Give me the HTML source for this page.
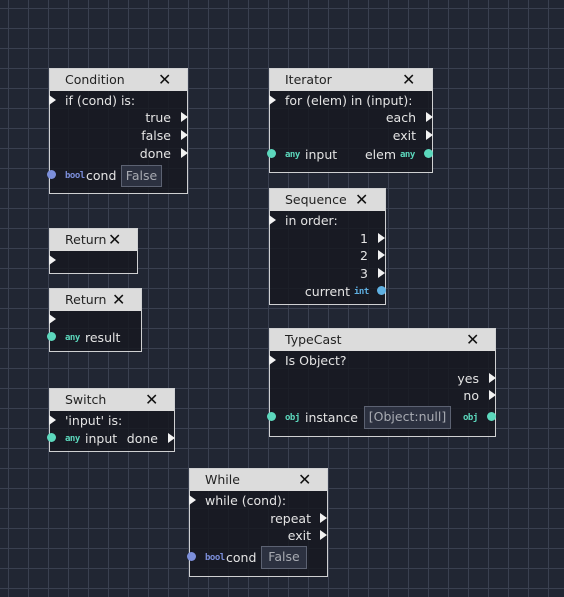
<!DOCTYPE html>
<html><head><meta charset="utf-8"><style>
body{margin:0;width:564px;height:597px;overflow:hidden;background-color:#212633;
background-image:linear-gradient(#3a4050 1px,transparent 1px),linear-gradient(90deg,#3a4050 1px,transparent 1px);
background-size:20px 20px;background-position:8px 8px;font-family:"DejaVu Sans","Liberation Sans",sans-serif;position:relative}
.n{position:absolute;border:1px solid #cfd0d2;background:rgba(22,24,32,0.82);box-sizing:border-box}
.h{position:absolute;left:0;right:0;top:0;height:22px;background:#dcdcdc}
.ti{position:absolute;font-size:12.5px;color:#222;line-height:16px;white-space:nowrap}
.x{position:absolute;font-size:16px;color:#111;line-height:16px}
.t{position:absolute;font-size:12.5px;color:#e4e4e4;line-height:16px;white-space:nowrap}
.tl{position:absolute;width:0;height:0;border-top:5px solid transparent;border-bottom:5px solid transparent;border-left:7px solid #f2f2f2}
.c{position:absolute;width:9px;height:9px;border-radius:50%}
.b{position:absolute;font-size:9px;font-weight:bold;line-height:10px;font-family:"DejaVu Sans Mono",monospace;letter-spacing:-0.5px}
.box{position:absolute;border:1px solid #5c6272;background:#2c3140;color:#a8abb2;font-size:12.5px;line-height:20px;text-align:center;box-sizing:border-box;white-space:nowrap}
</style></head><body>

<!-- Condition -->
<div class="n" style="left:49px;top:68px;width:139px;height:126px"><div class="h"></div></div>
<div class="ti" style="left:65px;top:72px">Condition</div><div class="x" style="left:158px;top:72px">✕</div>
<div class="tl" style="left:49px;top:95px"></div><div class="t" style="left:65px;top:93px">if (cond) is:</div>
<div class="t" style="right:393px;top:110px">true</div><div class="tl" style="left:181px;top:112px"></div>
<div class="t" style="right:393px;top:128px">false</div><div class="tl" style="left:181px;top:130px"></div>
<div class="t" style="right:393px;top:146px">done</div><div class="tl" style="left:181px;top:148px"></div>
<div class="c" style="left:47px;top:170px;background:#7c8fdb"></div><div class="b" style="left:65px;top:171px;color:#7c8fdb">bool</div>
<div class="t" style="left:86px;top:168px">cond</div><div class="box" style="left:121px;top:165px;width:41px;height:22px">False</div>

<!-- Iterator -->
<div class="n" style="left:269px;top:68px;width:164px;height:105px"><div class="h"></div></div>
<div class="ti" style="left:285px;top:72px">Iterator</div><div class="x" style="left:402px;top:72px">✕</div>
<div class="tl" style="left:269px;top:95px"></div><div class="t" style="left:285px;top:93px">for (elem) in (input):</div>
<div class="t" style="right:148px;top:110px">each</div><div class="tl" style="left:426px;top:112px"></div>
<div class="t" style="right:148px;top:128px">exit</div><div class="tl" style="left:426px;top:130px"></div>
<div class="c" style="left:267px;top:149px;background:#5cd8bd"></div><div class="b" style="left:285px;top:150px;color:#5cd8bd">any</div>
<div class="t" style="left:305px;top:147px">input</div><div class="t" style="right:168px;top:147px">elem</div>
<div class="b" style="left:400px;top:150px;color:#5cd8bd">any</div><div class="c" style="left:424px;top:149px;background:#5cd8bd"></div>

<!-- Sequence -->
<div class="n" style="left:269px;top:188px;width:117px;height:117px"><div class="h"></div></div>
<div class="ti" style="left:285px;top:192px">Sequence</div><div class="x" style="left:355px;top:192px">✕</div>
<div class="tl" style="left:269px;top:215px"></div><div class="t" style="left:285px;top:213px">in order:</div>
<div class="t" style="right:196px;top:231px">1</div><div class="tl" style="left:378px;top:233px"></div>
<div class="t" style="right:196px;top:248px">2</div><div class="tl" style="left:378px;top:250px"></div>
<div class="t" style="right:196px;top:266px">3</div><div class="tl" style="left:378px;top:268px"></div>
<div class="t" style="right:214px;top:284px">current</div><div class="b" style="left:354px;top:287px;color:#5fb0e2">int</div>
<div class="c" style="left:377px;top:286px;background:#5fb0e2"></div>

<!-- Return 1 -->
<div class="n" style="left:49px;top:228px;width:89px;height:46px"><div class="h"></div></div>
<div class="ti" style="left:65px;top:232px">Return</div><div class="x" style="left:108px;top:232px">✕</div>
<div class="tl" style="left:49px;top:255px"></div>

<!-- Return 2 -->
<div class="n" style="left:49px;top:288px;width:93px;height:64px"><div class="h"></div></div>
<div class="ti" style="left:65px;top:292px">Return</div><div class="x" style="left:112px;top:292px">✕</div>
<div class="tl" style="left:49px;top:314px"></div>
<div class="c" style="left:47px;top:332px;background:#5cd8bd"></div><div class="b" style="left:65px;top:333px;color:#5cd8bd">any</div>
<div class="t" style="left:85px;top:330px">result</div>

<!-- Switch -->
<div class="n" style="left:49px;top:388px;width:126px;height:64px"><div class="h"></div></div>
<div class="ti" style="left:65px;top:392px">Switch</div><div class="x" style="left:145px;top:392px">✕</div>
<div class="tl" style="left:49px;top:415px"></div><div class="t" style="left:65px;top:413px">'input' is:</div>
<div class="c" style="left:47px;top:433px;background:#5cd8bd"></div><div class="b" style="left:65px;top:434px;color:#5cd8bd">any</div>
<div class="t" style="left:85px;top:431px">input</div><div class="t" style="right:406px;top:431px">done</div>
<div class="tl" style="left:168px;top:433px"></div>

<!-- TypeCast -->
<div class="n" style="left:269px;top:328px;width:227px;height:109px"><div class="h"></div></div>
<div class="ti" style="left:285px;top:332px">TypeCast</div><div class="x" style="left:466px;top:332px">✕</div>
<div class="tl" style="left:269px;top:355px"></div><div class="t" style="left:285px;top:353px">Is Object?</div>
<div class="t" style="right:85px;top:371px">yes</div><div class="tl" style="left:489px;top:373px"></div>
<div class="t" style="right:85px;top:388px">no</div><div class="tl" style="left:489px;top:390px"></div>
<div class="c" style="left:267px;top:412px;background:#5cd8bd"></div><div class="b" style="left:285px;top:413px;color:#5cd8bd">obj</div>
<div class="t" style="left:305px;top:410px">instance</div><div class="box" style="left:364px;top:406px;width:87px;height:23px">[Object:null]</div>
<div class="b" style="left:463px;top:413px;color:#5cd8bd">obj</div><div class="c" style="left:487px;top:412px;background:#5cd8bd"></div>

<!-- While -->
<div class="n" style="left:189px;top:468px;width:139px;height:109px"><div class="h"></div></div>
<div class="ti" style="left:205px;top:472px">While</div><div class="x" style="left:298px;top:472px">✕</div>
<div class="tl" style="left:189px;top:495px"></div><div class="t" style="left:205px;top:493px">while (cond):</div>
<div class="t" style="right:253px;top:511px">repeat</div><div class="tl" style="left:320px;top:513px"></div>
<div class="t" style="right:253px;top:528px">exit</div><div class="tl" style="left:320px;top:530px"></div>
<div class="c" style="left:187px;top:552px;background:#7c8fdb"></div><div class="b" style="left:205px;top:553px;color:#7c8fdb">bool</div>
<div class="t" style="left:226px;top:550px">cond</div><div class="box" style="left:261px;top:546px;width:46px;height:23px">False</div>

</body></html>
